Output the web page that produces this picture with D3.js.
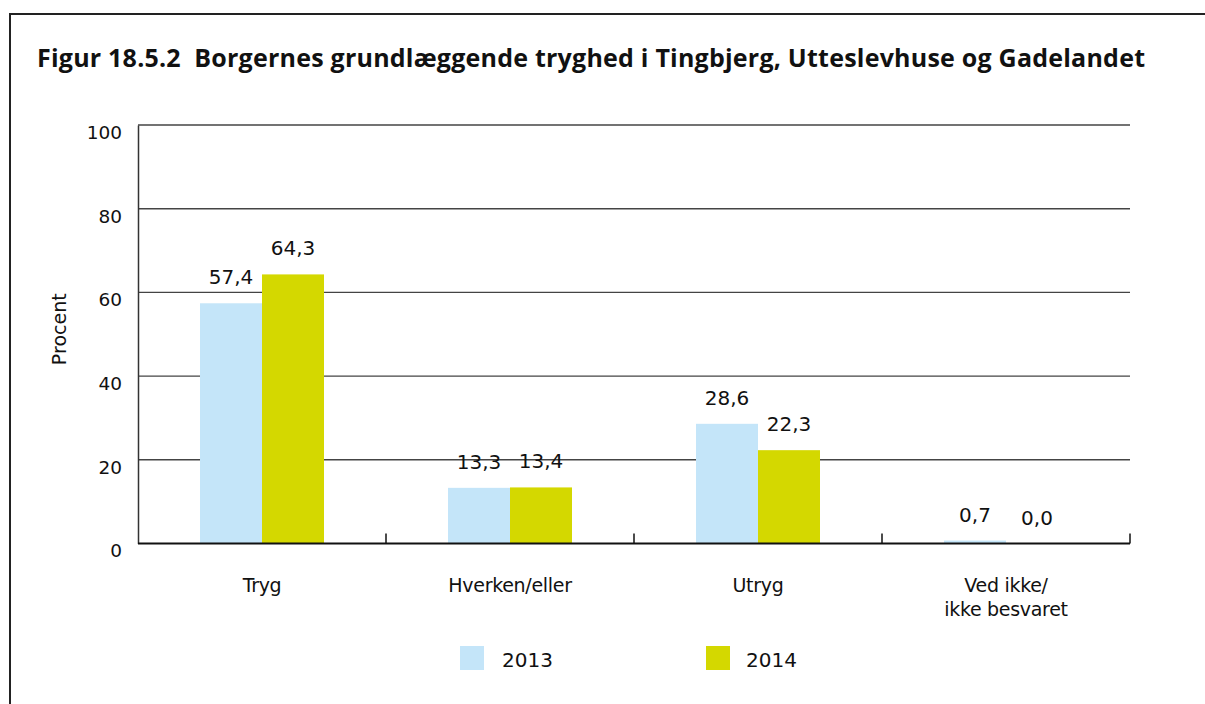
<!DOCTYPE html>
<html>
<head>
<meta charset="utf-8">
<script src="https://cdn.jsdelivr.net/npm/d3@7"></script>
<style>
  html, body { margin: 0; padding: 0; background: #fff; }
  svg { display: block; }
</style>
</head>
<body>
<svg id="chart" width="1205" height="704"></svg>
<script>
// ---- data ----
const title = "Figur 18.5.2  Borgernes grundlæggende tryghed i Tingbjerg, Utteslevhuse og Gadelandet";
const categories = ["Tryg", "Hverken/eller", "Utryg", "Ved ikke/\nikke besvaret"];
const seriesNames = ["2013", "2014"];
const values2013 = [57.4, 13.3, 28.6, 0.7];
const values2014 = [64.3, 13.4, 22.3, 0.0];
const yTicks = [0, 20, 40, 60, 80, 100];
const yLabel = "Procent";
const colors = ["#c4e5f9", "#d4d800"];

// ---- layout ----
const svg = d3.select("#chart");
const plotLeft = 138, plotRight = 1130, plotTop = 125, plotBottom = 543.5;
const numFont = "DejaVu Sans";

// frame
svg.append("rect")
  .attr("x", 10).attr("y", 14)
  .attr("width", 1300).attr("height", 800)
  .attr("fill", "none").attr("stroke", "#222").attr("stroke-width", 2);

// title (fit to the reference width)
const t = svg.append("text")
  .attr("x", 37).attr("y", 66.5)
  .attr("font-family", "Open Sans").attr("font-weight", "bold")
  .attr("font-size", 23).attr("fill", "#111")
  .style("white-space", "pre")
  .text(title);
const natural = t.node().getComputedTextLength();
const fitSize = Math.max(21, Math.min(25, 23 * 1108 / natural));
t.attr("font-size", fitSize);
t.attr("textLength", 1108).attr("lengthAdjust", "spacing");

const x0 = d3.scaleBand().domain(categories).range([plotLeft, plotRight]).padding(0);
const x1 = d3.scaleBand().domain(seriesNames)
  .range([x0.bandwidth() * 0.25, x0.bandwidth() * 0.75]).padding(0);
const y = d3.scaleLinear().domain([0, 100]).range([plotBottom, plotTop]);

// gridlines
svg.append("g").selectAll("line").data(yTicks.filter(d => d > 0)).join("line")
  .attr("x1", plotLeft).attr("x2", plotRight)
  .attr("y1", d => y(d)).attr("y2", d => y(d))
  .attr("stroke", "#444").attr("stroke-width", 1.4);

// y axis
const yAxis = svg.append("g").attr("transform", `translate(${plotLeft},0)`)
  .call(d3.axisLeft(y).tickValues(yTicks).tickSize(0).tickPadding(16).tickFormat(d3.format("d")));
yAxis.select(".domain").attr("stroke", "#333").attr("stroke-width", 1.5);
yAxis.selectAll("text")
  .attr("font-family", numFont).attr("font-size", 18.5).attr("fill", "#111")
  .attr("dy", "0.72em");

// y label
svg.append("text")
  .attr("transform", `translate(66,${(plotTop + plotBottom) / 2 - 5}) rotate(-90)`)
  .attr("text-anchor", "middle")
  .attr("font-family", numFont).attr("font-size", 19).attr("fill", "#111")
  .text(yLabel);

// bars
const rows = categories.map((c, i) => ({ cat: c, vals: [values2013[i], values2014[i]] }));
const groups = svg.append("g").selectAll("g").data(rows).join("g")
  .attr("transform", d => `translate(${x0(d.cat)},0)`);
groups.selectAll("rect").data(d => d.vals.map((v, j) => ({ s: seriesNames[j], v, j }))).join("rect")
  .attr("x", d => x1(d.s))
  .attr("width", x1.bandwidth())
  .attr("y", d => y(d.v))
  .attr("height", d => y(0) - y(d.v))
  .attr("fill", d => colors[d.j]);
groups.selectAll("text").data(d => d.vals.map((v, j) => ({ s: seriesNames[j], v, j }))).join("text")
  .attr("x", d => x1(d.s) + x1.bandwidth() / 2)
  .attr("y", d => y(d.v) - 19)
  .attr("text-anchor", "middle")
  .attr("font-family", numFont).attr("font-size", 20).attr("fill", "#111")
  .text(d => d.v.toFixed(1).replace(".", ","));

// x axis
const xAxisG = svg.append("g");
xAxisG.append("line")
  .attr("x1", plotLeft).attr("x2", plotRight).attr("y1", plotBottom).attr("y2", plotBottom)
  .attr("stroke", "#111").attr("stroke-width", 2.2);
xAxisG.selectAll("line.tick").data(categories).join("line")
  .attr("class", "tick")
  .attr("x1", d => x0(d) + x0.bandwidth()).attr("x2", d => x0(d) + x0.bandwidth())
  .attr("y1", plotBottom).attr("y2", plotBottom - 10)
  .attr("stroke", "#111").attr("stroke-width", 1.5);

// category labels
const catLabels = svg.append("g").selectAll("text").data(categories).join("text")
  .attr("x", d => x0(d) + x0.bandwidth() / 2)
  .attr("y", 592)
  .attr("text-anchor", "middle")
  .attr("font-family", numFont).attr("font-size", 19).attr("fill", "#111")
  .attr("letter-spacing", -0.3);
catLabels.each(function(d) {
  const lines = d.split("\n");
  d3.select(this).selectAll("tspan").data(lines).join("tspan")
    .attr("x", x0(d) + x0.bandwidth() / 2)
    .attr("dy", (l, i) => i === 0 ? 0 : 24)
    .text(l => l);
});

// legend
const legX = [460, 706];
const leg = svg.append("g").selectAll("g").data(seriesNames).join("g")
  .attr("transform", (d, i) => `translate(${legX[i]},646)`);
leg.append("rect").attr("width", 24).attr("height", 24).attr("fill", (d, i) => colors[i]);
leg.append("text").attr("x", (d, i) => i === 0 ? 42 : 40).attr("y", 21)
  .attr("font-family", numFont).attr("font-size", 20).attr("fill", "#111")
  .text(d => d);
</script>
</body>
</html>
